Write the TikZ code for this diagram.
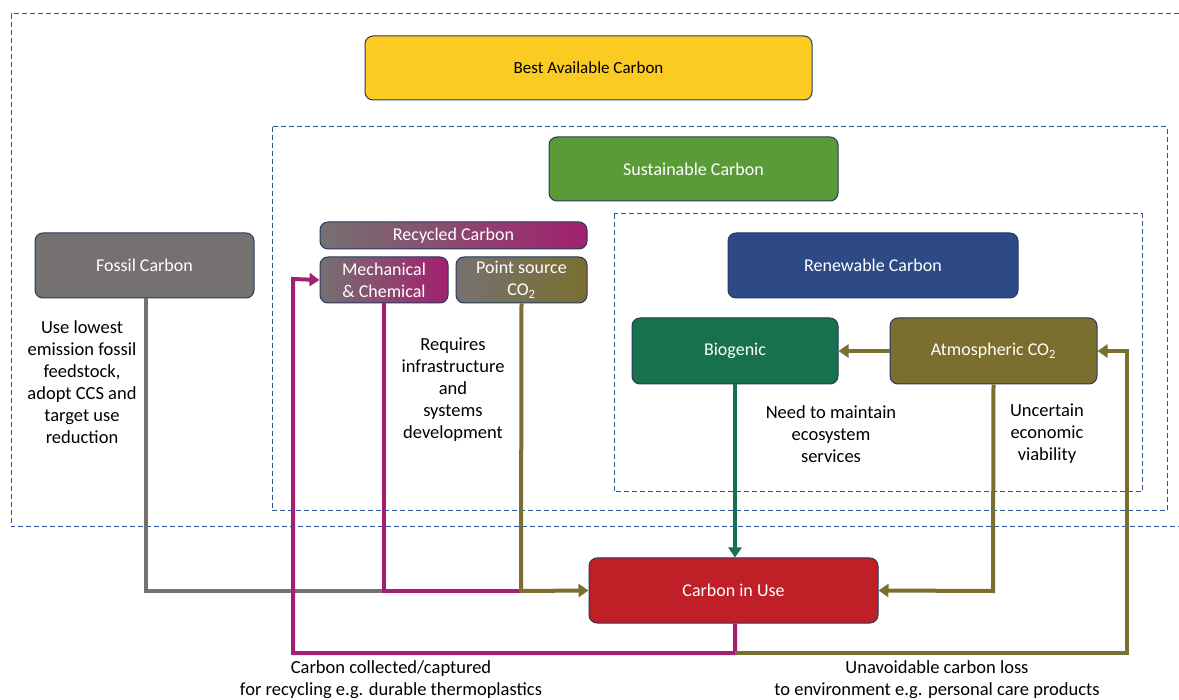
\documentclass[tikz,border=0pt]{standalone}
\usepackage{fontspec}
\setmainfont{Carlito}
\usetikzlibrary{arrows.meta}
\definecolor{dashblue}{HTML}{2F5597}
\definecolor{edgeblue}{HTML}{243A5E}
\definecolor{cyellow}{HTML}{FBCB22}
\definecolor{cgreen}{HTML}{5A9B38}
\definecolor{cgray}{HTML}{767171}
\definecolor{cmag}{HTML}{A1206F}
\definecolor{colive}{HTML}{7A6F2E}
\definecolor{cblue}{HTML}{2D4A86}
\definecolor{cbio}{HTML}{17714E}
\definecolor{cred}{HTML}{C01F27}
\tikzset{
  x=1pt, y=-1pt,
  box/.style={draw=edgeblue, line width=1pt, rounded corners=8pt, text=white, font=\fontsize{18}{22}\selectfont, align=center, inner sep=0pt},
  zone/.style={draw=dashblue, line width=1pt, dash pattern=on 5pt off 3pt},
  flow/.style={line width=4pt},
  tip/.style={-{Triangle[length=10pt,width=13pt]}},
  note/.style={font=\fontsize{18.5}{22}\selectfont, align=center, text=black},
}
\begin{document}
\begin{tikzpicture}
\useasboundingbox (0,0) rectangle (1179,700);
% dashed zones
\draw[zone] (1179,14) -- (11,14) -- (11,527) -- (1179,527);
\draw[zone] (272,127) rectangle (1167,511);
\draw[zone] (614,214) rectangle (1142,492);
% boxes
\node[box, fill=cyellow, text=black, font=\fontsize{17}{20}\selectfont, minimum width=447, minimum height=64] (best) at (588.5,68) {Best Available Carbon};
\node[box, fill=cgreen, minimum width=289, minimum height=64] (sust) at (693.5,169) {Sustainable Carbon};
\node[box, fill=cgray, minimum width=219, minimum height=65] (fossil) at (144.5,265.5) {Fossil Carbon};
\node[box, left color=cgray, right color=cmag, minimum width=267, minimum height=27] (recyc) at (453.5,235.5) {Recycled Carbon};
\node[box, left color=cgray, right color=cmag, minimum width=128, minimum height=46] (mech) at (384,280) {Mechanical\\\& Chemical};
\node[box, left color=cgray, right color=colive, minimum width=131, minimum height=46] (point) at (521.5,280) {Point source\\CO\textsubscript{2}};
\node[box, fill=cblue, minimum width=290, minimum height=65] (renew) at (873,265.5) {Renewable Carbon};
\node[box, fill=cbio, minimum width=206, minimum height=66] (bio) at (735,351) {Biogenic};
\node[box, fill=colive, minimum width=207, minimum height=66] (atmo) at (993.5,351) {Atmospheric CO\textsubscript{2}};
\node[box, fill=cred, minimum width=289, minimum height=65] (use) at (733.5,590.5) {Carbon in Use};
% helper coordinates
\coordinate (j1) at (384,591);
\coordinate (j2) at (521,591);
\coordinate (bot) at (735,653);
% connectors
\draw[flow, cgray] (fossil.south -| 146,0) -- (146,591) -- (j1);
\draw[flow, cmag] (mech.south) -- (j1) -- (j2);
\draw[flow, colive, tip] (point.south) -- (j2) -- (use.west);
\draw[flow, cbio, tip] (bio.south) -- (use.north -| bio.south);
\draw[flow, colive, tip] (atmo.west) -- (bio.east);
\draw[flow, colive, tip] (atmo.south) -- (993,591) -- (use.east);
\draw[flow, cmag, tip] (use.south -| bot) -- (bot) -- (293,653) -- (293,279) -- (mech.west);
\draw[flow, colive, tip] (bot) -- (1127,653) -- (1127,351) -- (atmo.east);
% notes
\node[note] (n1) at (82,382) {Use lowest\\emission fossil\\feedstock,\\adopt CCS and\\target use\\reduction};
\node[note] (n2) at (453,390) {Requires\\infrastructure\\and\\systems\\development};
\node[note] (n3) at (831,434) {Need to maintain\\ecosystem\\services};
\node[note] (n4) at (1047,434) {Uncertain\\economic\\viability};
\node[note] (n5) at (391,680) {Carbon collected/captured\\for recycling e.g. durable thermoplastics};
\node[note] (n6) at (937,680) {Unavoidable carbon loss\\to environment e.g. personal care products};
\end{tikzpicture}
\end{document}
